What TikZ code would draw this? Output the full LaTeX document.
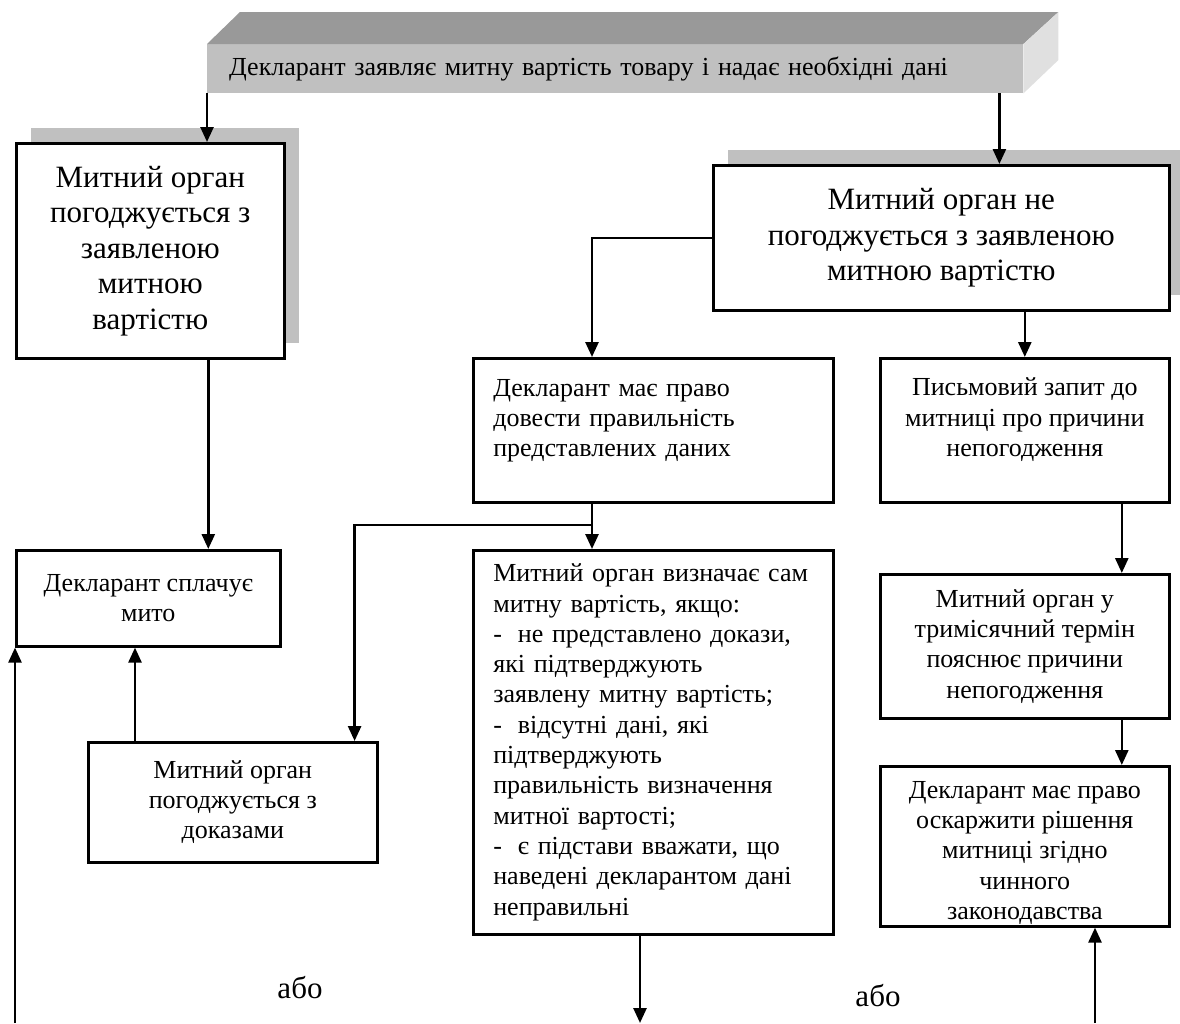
\documentclass[tikz,border=0pt]{standalone}
\usepackage{fontspec}
\setmainfont{Liberation Serif}
\usetikzlibrary{arrows.meta,shadows}
\definecolor{topface}{HTML}{999999}
\definecolor{frontface}{HTML}{C0C0C0}
\definecolor{sideface}{HTML}{E0E0E0}
\definecolor{shadegray}{HTML}{C0C0C0}

\begin{document}
\begin{tikzpicture}[x=1pt, y=-1pt,
    box/.style={draw, fill=white, line width=2.6pt, inner sep=0pt, anchor=north west, align=center},
    shadowed/.style={general shadow={fill=shadegray, shadow xshift=15pt, shadow yshift=15pt}},
    big/.style={font=\fontsize{31}{35.5}\selectfont},
    small/.style={font=\fontsize{26}{30.3}\selectfont},
    leftbox/.style={align=left, text width=320pt, inner xsep=20pt},
    arr/.style={line width=2.6pt, -{Triangle[length=15pt,width=13pt]}}]
    \useasboundingbox (0,0) rectangle (1180,1023);

    % top block
    \node[fill=frontface, anchor=north west, text width=772pt, inner xsep=22pt, minimum height=49pt,
          align=left, font=\fontsize{26}{29}\selectfont] (decl) at (207,44)
          {Декларант заявляє митну вартість товару і надає необхідні дані};
    \fill[topface] (decl.north west) -- ++(33,-32) -- ([shift={(35,-32)}]decl.north east) -- (decl.north east) -- cycle;
    \fill[sideface] (decl.north east) -- ++(35,-32) -- ++(0,48) -- (decl.south east) -- cycle;

    \node[box, shadowed, big, minimum width=268pt, minimum height=215pt] (agree) at (15,142)
          {Митний орган\\погоджується з\\заявленою\\митною\\вартістю};
    \node[box, shadowed, big, minimum width=456pt, minimum height=145pt] (disagree) at (712,164)
          {Митний орган не\\погоджується з заявленою\\митною вартістю};
    \node[box, small, leftbox, minimum width=360pt, minimum height=144pt] (prove) at (472,357)
          {Декларант має право\\довести правильність\\представлених даних\\[-6pt]\mbox{}};
    \node[box, small, minimum width=289pt, minimum height=144pt] (request) at (879,357)
          {Письмовий запит до\\митниці про причини\\непогодження\\[-4pt]\mbox{}};
    \node[box, small, leftbox, minimum width=360pt, minimum height=384pt] (assess) at (472,549)
          {Митний орган визначає сам\\митну вартість, якщо:\\-\hspace{16pt}не представлено докази,\\які підтверджують\\заявлену митну вартість;\\-\hspace{16pt}відсутні дані, які\\підтверджують\\правильність визначення\\митної вартості;\\-\hspace{16pt}є підстави вважати, що\\наведені декларантом дані\\неправильні};
    \node[box, small, minimum width=264pt, minimum height=96pt] (pay) at (15,549)
          {Декларант сплачує\\мито};
    \node[box, small, minimum width=289pt, minimum height=120pt] (proof) at (87,741)
          {Митний орган\\погоджується з\\доказами};
    \node[box, small, minimum width=289pt, minimum height=144pt] (explain) at (879,573)
          {Митний орган у\\тримісячний термін\\пояснює причини\\непогодження};
    \node[box, small, minimum width=289pt, minimum height=160pt] (appeal) at (879,765)
          {\rule{0pt}{30pt}Декларант має право\\оскаржити рішення\\митниці згідно\\чинного\\законодавства};

    \node[big] (or1) at (300,988) {або};
    \node[big] (or2) at (878,996) {або};

    \coordinate (fork) at (592,525);
    \coordinate (lin) at (15,1023);
    \coordinate (lout) at (640,1023);
    \coordinate (rin) at (1095,1023);

    \draw[arr] (decl.south west) -- (decl.south west |- agree.north);
    \draw[arr] ([xshift=-24pt]decl.south east) -- ([xshift=-24pt]decl.south east |- disagree.north);
    \draw[arr] ([xshift=58pt]agree.south) -- ([xshift=58pt]agree.south |- pay.north);
    \draw[arr] (disagree.west) -| (prove.north -| fork);
    \draw[arr] (prove.south -| fork) -- (assess.north -| fork);
    \draw[arr] (fork) -| ([xshift=-24pt]proof.north east);
    \draw[arr] (disagree.south -| request.north) -- (request.north);
    \draw[arr] ([xshift=48pt]proof.north west) -- ([xshift=48pt]proof.north west |- pay.south);
    \draw[arr] (lin) -- (pay.south west);
    \draw[arr] (assess.south -| lout) -- (lout);
    \draw[arr] ([xshift=97pt]request.south) -- ([xshift=97pt]request.south |- explain.north);
    \draw[arr] ([xshift=97pt]explain.south) -- ([xshift=97pt]explain.south |- appeal.north);
    \draw[arr] (rin) -- (rin |- appeal.south);
\end{tikzpicture}
\end{document}
